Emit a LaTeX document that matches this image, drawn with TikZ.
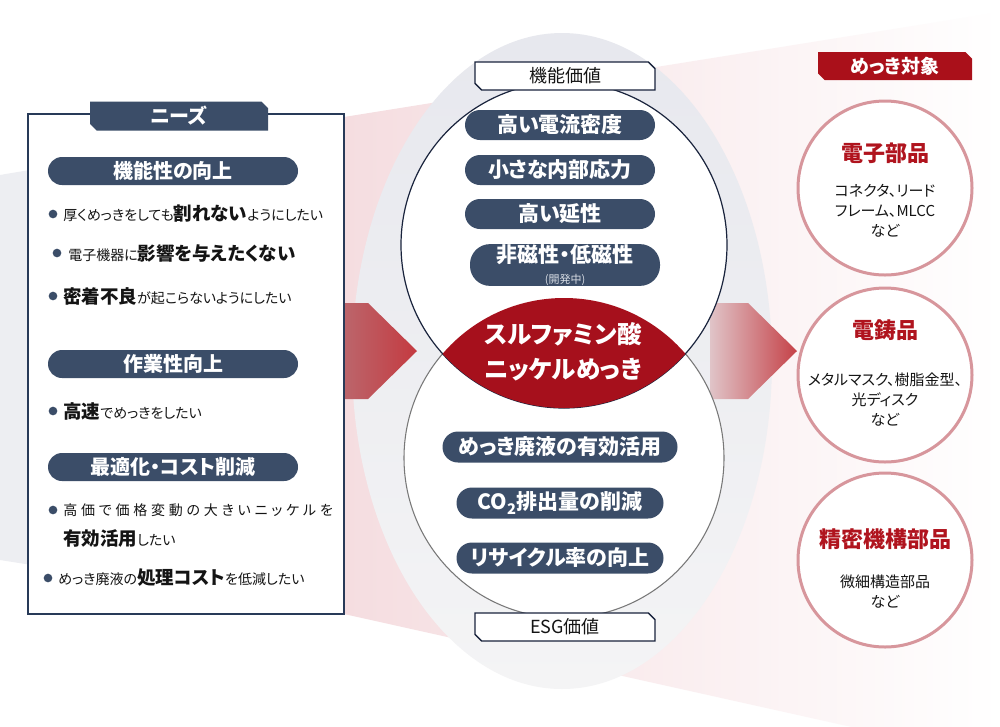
\documentclass[tikz,border=0pt]{standalone}
\usepackage{fontspec}
\setmainfont{Noto Sans CJK JP}[RawFeature=+palt]
\usetikzlibrary{shapes.misc}
\definecolor{navy}{RGB}{59,77,104}
\definecolor{panelline}{RGB}{40,58,88}
\definecolor{topline}{RGB}{25,35,60}
\definecolor{botline}{RGB}{120,120,120}
\definecolor{lensred}{RGB}{166,16,28}
\definecolor{tabred}{RGB}{170,16,26}
\definecolor{titlered}{RGB}{176,20,30}
\definecolor{ringcol}{RGB}{215,150,156}
\definecolor{pinkL}{RGB}{245,221,224}
\definecolor{pinkM}{RGB}{250,237,238}
\definecolor{grayW}{RGB}{237,238,242}
\definecolor{ellT}{RGB}{231,232,238}
\definecolor{ellB}{RGB}{244,244,245}
\definecolor{arrL}{RGB}{186,110,116}
\definecolor{arrR}{RGB}{196,58,64}
\definecolor{arr2L}{RGB}{224,196,200}
\definecolor{arr2R}{RGB}{197,66,72}
\definecolor{ink}{RGB}{20,20,20}
\definecolor{subwhite}{RGB}{215,220,228}
\newcommand\fpx[2]{\fontsize{\dimexpr #1pt*3/4\relax}{\dimexpr #2pt*3/4\relax}\selectfont}
\newcommand\bb[1]{{\bfseries\fpx{18.5}{19}#1}}
\begin{document}
\begin{tikzpicture}[x=0.75pt,y=-0.75pt,
  pill/.style={fill=navy,text=white,font=\bfseries\fpx{20}{22},inner sep=0pt,minimum width=187.5pt,minimum height=21pt,rounded corners=10.5pt},
  cpill/.style={fill=navy,text=white,font=\bfseries\fpx{21}{23},inner sep=0pt,minimum width=142.5pt,minimum height=22.5pt,rounded corners=11.25pt},
  bpill/.style={fill=navy,text=white,font=\bfseries\fpx{21}{23},inner sep=0pt,minimum width=155.25pt,minimum height=23.25pt,rounded corners=11.6pt},
  navytab/.style={chamfered rectangle,chamfered rectangle corners={north east,south west},chamfered rectangle xsep=2.5pt,chamfered rectangle ysep=2.5pt,fill=navy,text=white,font=\bfseries\fpx{20}{22},inner sep=0pt,minimum width=133.5pt,minimum height=21.75pt},
  whitetab/.style={chamfered rectangle,chamfered rectangle corners={north east,south west},chamfered rectangle xsep=2.5pt,chamfered rectangle ysep=2.5pt,fill=white,draw=topline,line width=1.1pt,text=ink,font=\fpx{18}{20},inner sep=0pt,minimum width=135pt,minimum height=21pt},
  redtab/.style={chamfered rectangle,chamfered rectangle corners={north east,south west},chamfered rectangle xsep=2.5pt,chamfered rectangle ysep=2.5pt,fill=tabred,text=white,font=\bfseries\fpx{19}{21},inner sep=0pt,minimum width=115.5pt,minimum height=21pt},
  bulletdot/.style={circle,fill=navy,inner sep=0pt,minimum size=6.5pt},
  item/.style={anchor=west,inner sep=0pt,text=ink,font=\fpx{14}{20}},
  ring/.style={circle,fill=white,draw=ringcol,line width=2.25pt,minimum size=130.5pt,inner sep=0pt},
  rtitle/.style={text=titlered,font=\bfseries\fpx{22}{24},inner sep=0pt},
  rsub/.style={text=ink,font=\fpx{15}{20},align=center,inner sep=0pt}]
\useasboundingbox (0,0) rectangle (1000,726);
\fill[white] (0,0) rectangle (1000,726);
% background wedges
\begin{scope}
\clip (0,0) rectangle (1000,726);
\fill[grayW] (0,175) -- (344,117) -- (344,614) -- (0,560) -- cycle;
\shade[left color=pinkL,middle color=pinkM,right color=white] (344,117) -- (1000,12) -- (1000,760) -- (344,614) -- cycle;
\shade[top color=ellT,bottom color=ellB] (562,361) ellipse [x radius=157.5pt, y radius=246pt];
\end{scope}
% arrows
\shade[left color=arrL,right color=arrR] (330,303) -- (368,303) -- (417,351) -- (368,399) -- (330,399) -- cycle;
\shade[left color=arr2L,right color=arr2R] (710,303) -- (748,303) -- (797,351) -- (748,399) -- (710,399) -- cycle;
% value circles
\node[circle,fill=white,draw=botline,line width=0.8pt,minimum size=240pt,inner sep=0pt] (botc) at (564,458) {};
\node[circle,fill=white,draw=topline,line width=0.9pt,minimum size=244.5pt,inner sep=0pt] (topc) at (564,245) {};
\begin{scope}
\clip (564,245) circle [radius=122.25pt];
\fill[lensred] (564,458) circle [radius=120pt];
\end{scope}
\node[text=white,font=\bfseries\fpx{24.5}{35},align=center,inner sep=0pt] (lens) at (563,352) {スルファミン酸\\ニッケルめっき};
\node[whitetab] (func) at (565,76) {機能価値};
\node[whitetab] (esg) at (565,627) {ESG価値};
\node[cpill] (c1) at (560,125) {高い電流密度};
\node[cpill] (c2) at (560,170) {小さな内部応力};
\node[cpill] (c3) at (560,214) {高い延性};
\node[cpill,minimum height=30pt,rounded corners=15pt,align=center] (c4) at (565,265) {\fpx{21}{20}非磁性・低磁性\\[-1pt]{\mdseries\color{subwhite}\fpx{11}{11}(開発中)}};
\node[bpill,minimum width=176.25pt] (e1) at (560,447) {めっき廃液の有効活用};
\node[bpill] (e2) at (560,503) {CO\textsubscript{2}排出量の削減};
\node[bpill] (e3) at (560,558) {リサイクル率の向上};
% needs panel
\node[draw=panelline,line width=1.1pt,fill=white,minimum width=237pt,minimum height=375pt,inner sep=0pt] (panel) at (186,364) {};
\node[navytab] (needs) at (179,116) {ニーズ};
\node[pill] (s1) at (173,171) {機能性の向上};
\node[pill] (s2) at (173,364) {作業性向上};
\node[pill] (s3) at (173,467) {最適化・コスト削減};
\node[bulletdot] (d1) at (53,214) {};
\node[item] (t1) at (63,214) {厚くめっきをしても\bb{割れない}ようにしたい};
\node[bulletdot] (d2) at (57,253) {};
\node[item] (t2) at (68,253) {電子機器に\bb{影響を与えたくない}};
\node[bulletdot] (d3) at (53,296) {};
\node[item] (t3) at (63,296) {\bb{密着不良}が起こらないようにしたい};
\node[bulletdot] (d4) at (53,411) {};
\node[item] (t4) at (63,411) {\bb{高速}でめっきをしたい};
\node[bulletdot] (d5) at (53,510) {};
\node[item] (t5) at (63,510) {\addfontfeature{LetterSpace=27}高価で価格変動の大きいニッケルを};
\node[item] (t5b) at (63,538) {\bb{有効活用}したい};
\node[bulletdot] (d6) at (48,578) {};
\node[item] (t6) at (58,578) {めっき廃液の\bb{処理コスト}を低減したい};
% targets
\node[redtab] (target) at (895,66) {めっき対象};
\node[ring] (r1) at (885,188) {};
\node[ring] (r2) at (885,375) {};
\node[ring] (r3) at (885,560) {};
\node[rtitle] (r1t) at (885,153) {電子部品};
\node[rsub] (r1s) at (885,211) {コネクタ、リード\\フレーム、MLCC\\など};
\node[rtitle] (r2t) at (885,330) {電鋳品};
\node[rsub] (r2s) at (885,400) {メタルマスク、樹脂金型、\\光ディスク\\など};
\node[rtitle] (r3t) at (885,539) {精密機構部品};
\node[rsub] (r3s) at (885,592) {微細構造部品\\など};
\end{tikzpicture}
\end{document}
